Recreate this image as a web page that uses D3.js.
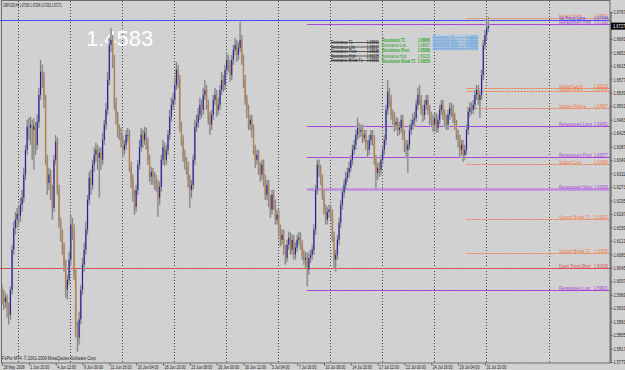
<!DOCTYPE html>
<html>
<head>
<meta charset="utf-8">
<script src="https://cdn.jsdelivr.net/npm/d3@7"></script>
<style>
  html, body { margin: 0; padding: 0; background: #d5d5d5; overflow: hidden; }
  text { font-family: "Liberation Sans", Arial, sans-serif; }
</style>
</head>
<body>
<div id="chart"></div>
<script>
// ---- data ----
const symbolInfo = "GBPUSD,H4  1.67160 1.67294 1.67202 1.67271";
const copyright = "FxPro MT4, \u00a9 2001-2009 MetaQuotes Software Corp.";
const bigValue = "1.4583";
const lastPrice = 1.67271;

// one label every 16 H4 bars
const dateLabels = ["28 May 2009", "1 Jun 20:00", "4 Jun 12:00", "9 Jun 00:00", "11 Jun 16:00",
  "16 Jun 04:00", "18 Jun 20:00", "23 Jun 08:00", "26 Jun 00:00", "30 Jun 12:00", "3 Jul 04:00",
  "7 Jul 16:00", "10 Jul 08:00", "14 Jul 20:00", "17 Jul 12:00", "22 Jul 00:00", "24 Jul 16:00",
  "29 Jul 04:00", "31 Jul 20:00"];
const gridBars = [9.5, 40.5, 71.5, 102.5, 133.5, 164.5, 195.5, 226.5, 257.5, 288.5, 326];

const priceTicks = [1.6767, 1.6729, 1.6691, 1.6653, 1.6615, 1.6577, 1.6539, 1.6501, 1.6463,
  1.6425, 1.6387, 1.6349, 1.6311, 1.6273, 1.6235, 1.6197, 1.6159, 1.6121, 1.6083, 1.6045,
  1.6007, 1.5969, 1.5931, 1.5893, 1.5855, 1.5817, 1.5779];

// H4 bars: [high, low, close]; each bar opens at the previous close
const firstOpen = 1.5977;
const bars = [
  [1.5997,1.5941,1.5969],[1.5983,1.5927,1.5949],[1.5975,1.5932,1.5961],[1.5969,1.5904,1.5932],[1.5947,1.5885,1.5913],
  [1.5992,1.5899,1.5983],[1.6110,1.5969,1.6096],[1.6175,1.6082,1.6158],[1.6203,1.6138,1.6181],[1.6214,1.6158,1.6197],
  [1.6223,1.6167,1.6192],[1.6243,1.6175,1.6223],[1.6265,1.6203,1.6243],[1.6327,1.6229,1.6308],[1.6392,1.6293,1.6378],
  [1.6463,1.6364,1.6443],[1.6468,1.6406,1.6440],[1.6471,1.6392,1.6449],[1.6463,1.6350,1.6434],[1.6468,1.6322,1.6446],
  [1.6457,1.6364,1.6392],[1.6477,1.6378,1.6457],[1.6553,1.6440,1.6533],[1.6632,1.6519,1.6598],[1.6618,1.6553,1.6581],
  [1.6598,1.6496,1.6519],[1.6533,1.6336,1.6350],[1.6364,1.6251,1.6285],[1.6327,1.6265,1.6308],[1.6322,1.6237,1.6265],
  [1.6279,1.6181,1.6214],[1.6364,1.6203,1.6350],[1.6420,1.6336,1.6401],[1.6412,1.6251,1.6265],[1.6279,1.6158,1.6175],
  [1.6186,1.6119,1.6138],[1.6153,1.6082,1.6105],[1.6116,1.6034,1.6054],[1.6068,1.5961,1.5983],[1.6025,1.5955,1.6011],
  [1.6090,1.5997,1.6068],[1.6195,1.6054,1.6167],[1.6186,1.6124,1.6153],[1.6167,1.6011,1.6025],[1.6040,1.5848,1.5870],
  [1.5893,1.5808,1.5848],[1.5921,1.5828,1.5899],[1.5997,1.5885,1.5983],[1.6073,1.5969,1.6054],[1.6116,1.6034,1.6096],
  [1.6175,1.6082,1.6153],[1.6251,1.6138,1.6237],[1.6316,1.6223,1.6299],[1.6322,1.6251,1.6279],[1.6350,1.6265,1.6336],
  [1.6384,1.6316,1.6364],[1.6398,1.6344,1.6378],[1.6392,1.6322,1.6355],[1.6384,1.6243,1.6370],[1.6386,1.6322,1.6350],
  [1.6426,1.6336,1.6406],[1.6463,1.6392,1.6449],[1.6511,1.6434,1.6491],[1.6598,1.6477,1.6575],[1.6694,1.6561,1.6674],
  [1.6722,1.6654,1.6688],[1.6702,1.6609,1.6632],[1.6646,1.6491,1.6511],[1.6525,1.6449,1.6471],[1.6485,1.6412,1.6434],
  [1.6449,1.6406,1.6426],[1.6440,1.6384,1.6406],[1.6420,1.6355,1.6378],[1.6406,1.6364,1.6392],[1.6434,1.6378,1.6420],
  [1.6440,1.6401,1.6420],[1.6434,1.6316,1.6330],[1.6344,1.6271,1.6293],[1.6308,1.6231,1.6251],[1.6265,1.6195,1.6217],
  [1.6279,1.6203,1.6265],[1.6350,1.6251,1.6336],[1.6406,1.6322,1.6386],[1.6440,1.6372,1.6420],[1.6434,1.6384,1.6406],
  [1.6443,1.6392,1.6426],[1.6440,1.6378,1.6398],[1.6412,1.6336,1.6350],[1.6364,1.6288,1.6302],[1.6330,1.6279,1.6316],
  [1.6327,1.6279,1.6299],[1.6316,1.6265,1.6293],[1.6308,1.6260,1.6279],[1.6293,1.6189,1.6243],[1.6288,1.6223,1.6274],
  [1.6364,1.6260,1.6350],[1.6406,1.6336,1.6386],[1.6398,1.6333,1.6350],[1.6392,1.6336,1.6378],[1.6434,1.6364,1.6420],
  [1.6491,1.6406,1.6471],[1.6525,1.6457,1.6505],[1.6539,1.6491,1.6519],[1.6581,1.6505,1.6561],[1.6626,1.6547,1.6604],
  [1.6618,1.6553,1.6575],[1.6589,1.6429,1.6443],[1.6457,1.6389,1.6406],[1.6420,1.6344,1.6358],[1.6378,1.6322,1.6344],
  [1.6358,1.6308,1.6330],[1.6344,1.6271,1.6293],[1.6308,1.6214,1.6265],[1.6293,1.6243,1.6279],[1.6364,1.6265,1.6350],
  [1.6463,1.6336,1.6443],[1.6477,1.6429,1.6454],[1.6496,1.6440,1.6477],[1.6525,1.6463,1.6505],[1.6519,1.6468,1.6491],
  [1.6553,1.6477,1.6533],[1.6575,1.6519,1.6547],[1.6561,1.6491,1.6505],[1.6519,1.6449,1.6468],[1.6485,1.6420,1.6449],
  [1.6491,1.6434,1.6477],[1.6533,1.6463,1.6519],[1.6553,1.6505,1.6533],[1.6547,1.6471,1.6491],[1.6525,1.6477,1.6505],
  [1.6561,1.6491,1.6547],[1.6598,1.6533,1.6575],[1.6589,1.6542,1.6561],[1.6618,1.6547,1.6604],[1.6654,1.6589,1.6632],
  [1.6646,1.6598,1.6618],[1.6632,1.6570,1.6589],[1.6646,1.6575,1.6632],[1.6674,1.6618,1.6660],[1.6694,1.6646,1.6674],
  [1.6688,1.6626,1.6646],[1.6683,1.6632,1.6666],[1.6739,1.6654,1.6688],[1.6702,1.6618,1.6632],[1.6646,1.6553,1.6575],
  [1.6589,1.6505,1.6519],[1.6533,1.6468,1.6491],[1.6505,1.6434,1.6449],[1.6477,1.6434,1.6463],[1.6477,1.6412,1.6434],
  [1.6449,1.6364,1.6378],[1.6392,1.6327,1.6350],[1.6378,1.6336,1.6364],[1.6378,1.6308,1.6327],[1.6344,1.6288,1.6308],
  [1.6350,1.6293,1.6336],[1.6350,1.6274,1.6293],[1.6308,1.6237,1.6251],[1.6293,1.6237,1.6279],[1.6293,1.6217,1.6237],
  [1.6251,1.6186,1.6209],[1.6265,1.6195,1.6251],[1.6265,1.6209,1.6223],[1.6237,1.6167,1.6181],[1.6209,1.6167,1.6195],
  [1.6209,1.6133,1.6153],[1.6167,1.6105,1.6124],[1.6153,1.6110,1.6138],[1.6153,1.6082,1.6096],[1.6110,1.6054,1.6073],
  [1.6124,1.6062,1.6110],[1.6147,1.6096,1.6130],[1.6144,1.6082,1.6096],[1.6138,1.6082,1.6124],[1.6138,1.6068,1.6082],
  [1.6116,1.6068,1.6102],[1.6138,1.6090,1.6124],[1.6147,1.6110,1.6130],[1.6144,1.6096,1.6110],[1.6124,1.6068,1.6082],
  [1.6096,1.6054,1.6068],[1.6090,1.6045,1.6073],[1.6088,1.5992,1.6040],[1.6088,1.6025,1.6073],[1.6096,1.6059,1.6082],
  [1.6110,1.6068,1.6096],[1.6167,1.6082,1.6153],[1.6279,1.6138,1.6265],[1.6350,1.6251,1.6336],[1.6350,1.6302,1.6322],
  [1.6336,1.6279,1.6293],[1.6308,1.6237,1.6251],[1.6265,1.6195,1.6209],[1.6223,1.6167,1.6181],[1.6217,1.6167,1.6203],
  [1.6223,1.6186,1.6209],[1.6223,1.6181,1.6195],[1.6209,1.6119,1.6133],[1.6147,1.6045,1.6068],[1.6096,1.6034,1.6082],
  [1.6138,1.6068,1.6124],[1.6186,1.6110,1.6172],[1.6237,1.6158,1.6223],[1.6271,1.6209,1.6257],[1.6293,1.6243,1.6279],
  [1.6316,1.6265,1.6299],[1.6327,1.6288,1.6313],[1.6344,1.6299,1.6327],[1.6364,1.6316,1.6350],[1.6392,1.6336,1.6378],
  [1.6406,1.6364,1.6392],[1.6434,1.6378,1.6420],[1.6468,1.6406,1.6440],[1.6454,1.6412,1.6429],[1.6449,1.6415,1.6434],
  [1.6449,1.6398,1.6412],[1.6434,1.6401,1.6420],[1.6434,1.6378,1.6392],[1.6406,1.6355,1.6378],[1.6420,1.6364,1.6406],
  [1.6434,1.6392,1.6420],[1.6434,1.6389,1.6406],[1.6420,1.6336,1.6350],[1.6364,1.6265,1.6313],[1.6341,1.6293,1.6327],
  [1.6344,1.6302,1.6322],[1.6364,1.6308,1.6350],[1.6392,1.6336,1.6378],[1.6420,1.6364,1.6406],[1.6505,1.6392,1.6491],
  [1.6575,1.6477,1.6542],[1.6553,1.6499,1.6519],[1.6533,1.6463,1.6477],[1.6491,1.6449,1.6468],[1.6485,1.6429,1.6449],
  [1.6471,1.6434,1.6457],[1.6468,1.6417,1.6434],[1.6457,1.6420,1.6440],[1.6477,1.6426,1.6463],[1.6477,1.6406,1.6420],
  [1.6434,1.6372,1.6392],[1.6406,1.6355,1.6378],[1.6406,1.6313,1.6392],[1.6449,1.6378,1.6434],[1.6463,1.6420,1.6449],
  [1.6480,1.6434,1.6463],[1.6485,1.6443,1.6468],[1.6519,1.6457,1.6505],[1.6553,1.6491,1.6533],[1.6561,1.6505,1.6519],
  [1.6533,1.6477,1.6491],[1.6505,1.6457,1.6477],[1.6519,1.6463,1.6505],[1.6533,1.6491,1.6519],[1.6533,1.6477,1.6491],
  [1.6505,1.6449,1.6468],[1.6485,1.6443,1.6463],[1.6477,1.6429,1.6449],[1.6482,1.6434,1.6468],[1.6482,1.6426,1.6440],
  [1.6477,1.6426,1.6463],[1.6505,1.6449,1.6491],[1.6519,1.6477,1.6505],[1.6519,1.6463,1.6477],[1.6491,1.6443,1.6463],
  [1.6477,1.6434,1.6449],[1.6491,1.6434,1.6477],[1.6511,1.6463,1.6496],[1.6511,1.6471,1.6491],[1.6505,1.6454,1.6468],
  [1.6482,1.6434,1.6449],[1.6463,1.6406,1.6420],[1.6434,1.6384,1.6406],[1.6420,1.6355,1.6378],[1.6406,1.6364,1.6392],
  [1.6406,1.6344,1.6364],[1.6392,1.6350,1.6378],[1.6449,1.6364,1.6434],[1.6499,1.6420,1.6485],[1.6513,1.6471,1.6496],
  [1.6511,1.6477,1.6491],[1.6519,1.6480,1.6505],[1.6547,1.6491,1.6533],[1.6561,1.6519,1.6547],[1.6561,1.6505,1.6519],
  [1.6547,1.6468,1.6533],[1.6604,1.6519,1.6589],[1.6688,1.6575,1.6674],[1.6716,1.6660,1.6702],[1.6745,1.6688,1.6722],
  [1.6753,1.6711,1.6728]
];

// pivot / retracement levels drawn by the indicator
const levelNames = ["Support High", "Up Trend Long", "Retracement High", "Support Long", "Support  Pivot",
  "Support Failure", "Retracement Long", "Retracement Pivot", "Support  Low", "Retracement Short",
  "Support Break T1", "Support Break T2", "Down Trend Short", "Retracement Low"];
const levelValues = [1.67501, 1.67444, 1.67331, 1.65526, 1.65440, 1.64957, 1.64451, 1.63577, 1.63390,
  1.62683, 1.61822, 1.60856, 1.60439, 1.59831];
const levelKinds = ["support", "uptrend", "retrace", "support", "support", "support", "retrace", "retrace",
  "support", "retraceMain", "support", "support", "downtrend", "retrace"];
const levelFromBar = [277, 0, 182, 277, 277, 277, 182, 182, 277, 182, 277, 277, 0, 182];

// resistance labels that the indicator stacks above the chart
const resistNames = ["Resistance T1", "Resistance Low", "Resistance Pivot", "Resistance High", "Resistance Break T1"];
const resistValues = [1.68866, 1.68097, 1.68688, 1.69225, 1.69556];

document.addEventListener("DOMContentLoaded", function() {
  const width = 625;
  const height = 370;
  const plotRight = 610;
  const plotBottom = 363;

  const kindColor = {
    support: "#f07a4a", uptrend: "#4a4aff", retrace: "#a645d8",
    retraceMain: "#c58be0", downtrend: "#d85050"
  };

  const svg = d3.select("#chart")
      .append("svg")
      .attr("width", width)
      .attr("height", height);

  // speckled grey background like the MT4 screenshot
  const defs = svg.append("defs");
  const noise = defs.append("filter").attr("id", "noise");
  noise.append("feTurbulence").attr("type", "fractalNoise").attr("baseFrequency", 0.9).attr("numOctaves", 1).attr("result", "n");
  noise.append("feColorMatrix").attr("type", "matrix")
      .attr("values", "0 0 0 0 0.4  0 0 0 0 0.4  0 0 0 0 0.4  0 0 0 0.18 0");
  svg.append("rect").attr("width", width).attr("height", height).attr("fill", "#d5d5d5");
  svg.append("rect").attr("width", width).attr("height", height).attr("filter", "url(#noise)");

  // scales
  const x = d3.scaleLinear().domain([0, 290]).range([2, 488.3]);
  const y = d3.scaleLinear()
      .domain([priceTicks[priceTicks.length - 1], priceTicks[0]])
      .range([362, 12]);

  // squeeze the tiny MT4 fonts horizontally
  function squeeze(sel, k) {
    sel.each(function() {
      const w = this.getComputedTextLength();
      d3.select(this).attr("textLength", w * k).attr("lengthAdjust", "spacingAndGlyphs");
    });
  }

  // vertical dotted grid
  svg.append("g").selectAll("line")
      .data(gridBars)
      .join("line")
      .attr("x1", d => Math.round(x(d)) + 0.5)
      .attr("x2", d => Math.round(x(d)) + 0.5)
      .attr("y1", 1)
      .attr("y2", plotBottom)
      .attr("stroke", "#444")
      .attr("stroke-width", 1)
      .attr("stroke-dasharray", "1,2");

  // big overlay value
  svg.append("text")
      .attr("x", 86).attr("y", 46)
      .attr("fill", "#ffffff")
      .style("font-size", "22px")
      .text(bigValue);

  const levels = levelNames.map((name, i) => ({
    name, value: levelValues[i], kind: levelKinds[i], from: levelFromBar[i]
  }));

  const levelG = svg.append("g");
  levelG.selectAll("line")
      .data(levels)
      .join("line")
      .attr("x1", d => d.from === 0 ? 0 : x(d.from))
      .attr("x2", plotRight)
      .attr("y1", d => Math.round(y(d.value)) + 0.5)
      .attr("y2", d => Math.round(y(d.value)) + 0.5)
      .attr("stroke", d => kindColor[d.kind])
      .attr("stroke-width", d => d.kind === "retraceMain" ? 2.5 : 1)
      .attr("stroke-dasharray", d => d.kind === "support" ? "2,1" : null);

  // candles
  const candles = bars.map((b, i) => ({
    i, open: i ? bars[i - 1][2] : firstOpen, high: b[0], low: b[1], close: b[2]
  }));

  const cg = svg.append("g");
  // soft halo from the downscaled screenshot
  cg.selectAll(".halo")
      .data(candles)
      .join("line")
      .attr("class", "halo")
      .attr("x1", d => x(d.i)).attr("x2", d => x(d.i))
      .attr("y1", d => y(d.high)).attr("y2", d => y(d.low))
      .attr("stroke", "#bdbdbd").attr("stroke-width", 2.2);
  cg.selectAll(".wick")
      .data(candles)
      .join("line")
      .attr("class", "wick")
      .attr("x1", d => x(d.i)).attr("x2", d => x(d.i))
      .attr("y1", d => y(d.high)).attr("y2", d => y(d.low))
      .attr("stroke", "#707070").attr("stroke-width", 0.8);
  cg.selectAll(".body")
      .data(candles)
      .join("rect")
      .attr("class", "body")
      .attr("x", d => x(d.i) - 0.55)
      .attr("width", 1.1)
      .attr("y", d => y(Math.max(d.open, d.close)))
      .attr("height", d => Math.max(0.8, Math.abs(y(d.open) - y(d.close))))
      .attr("fill", d => d.close >= d.open ? "#22229e" : "#c0813f");

  // level captions: name at left, value at right, sitting on the line
  const capG = svg.append("g").style("font-size", "5.5px");
  capG.selectAll(".lname")
      .data(levels)
      .join("text")
      .attr("class", "lname")
      .attr("x", 559)
      .attr("y", d => Math.round(y(d.value)) - 0.5)
      .attr("fill", d => d.kind === "retraceMain" ? kindColor.retrace : kindColor[d.kind])
      .text(d => d.name)
      .call(squeeze, 0.72);
  capG.selectAll(".lval")
      .data(levels)
      .join("text")
      .attr("class", "lval")
      .attr("x", 608)
      .attr("y", d => Math.round(y(d.value)) - 0.5)
      .attr("text-anchor", "end")
      .attr("fill", d => d.kind === "retraceMain" ? kindColor.retrace : kindColor[d.kind])
      .text(d => d.value.toFixed(5))
      .call(squeeze, 0.7);

  // stacked resistance captions (black table, green list, blue smear)
  const rows = resistNames.map((n, i) => ({ n, v: resistValues[i], i }));
  const blocks = [
    { x0: 331, x1: 379, top: 44, step: 4.5, color: "#222", strike: true, bold: false },
    { x0: 382, x1: 430, top: 41.5, step: 5.4, color: "#2ea52e", strike: false, bold: true },
    { x0: 433, x1: 478, top: 39, step: 2.8, color: "#6fa6dc", strike: true, bold: false }
  ];
  // pale box behind the blue smear
  svg.append("rect")
      .attr("x", 432).attr("y", 34.5).attr("width", 46).attr("height", 16)
      .attr("fill", "#a9c7e6").attr("opacity", 0.55);
  blocks.forEach(bk => {
    const g = svg.append("g").style("font-size", "5.5px");
    g.selectAll(".rn").data(rows).join("text")
        .attr("x", bk.x0).attr("y", d => bk.top + d.i * bk.step)
        .attr("fill", bk.color)
        .style("font-weight", d => bk.bold && d.i % 2 === 0 ? "bold" : null)
        .text(d => d.n).call(squeeze, 0.62);
    g.selectAll(".rv").data(rows).join("text")
        .attr("x", bk.x1).attr("y", d => bk.top + d.i * bk.step)
        .attr("text-anchor", "end")
        .attr("fill", bk.color)
        .style("font-weight", d => bk.bold && d.i % 2 === 0 ? "bold" : null)
        .text(d => d.v.toFixed(5)).call(squeeze, 0.62);
    if (bk.strike) {
      g.selectAll(".rs").data(rows).join("line")
          .attr("x1", bk.x0).attr("x2", bk.x1)
          .attr("y1", d => bk.top - 1.5 + d.i * bk.step).attr("y2", d => bk.top - 1.5 + d.i * bk.step)
          .attr("stroke", bk.color).attr("stroke-width", 0.7);
    }
  });

  // frame and price axis
  svg.append("rect")
      .attr("x", 1.5).attr("y", 0.5)
      .attr("width", plotRight - 1.5).attr("height", plotBottom - 0.5)
      .attr("fill", "none").attr("stroke", "#6c6c6c");

  const yAxis = svg.append("g")
      .attr("transform", `translate(${plotRight + 0.5},0)`)
      .call(d3.axisRight(y).tickValues(priceTicks).tickSize(2).tickFormat(d => d.toFixed(5)));
  yAxis.select(".domain").attr("stroke", "#555");
  yAxis.selectAll("line").attr("stroke", "#555");
  yAxis.selectAll("text")
      .attr("x", 3).attr("fill", "#222")
      .style("font-size", "5.5px")
      .call(squeeze, 0.72);

  // current price marker
  const lp = svg.append("g").attr("transform", `translate(${plotRight + 1},${y(lastPrice)})`);
  lp.append("rect").attr("x", 0).attr("y", -3.5).attr("width", 16).attr("height", 7).attr("fill", "#000");
  lp.append("text").attr("x", 2).attr("y", 2).attr("fill", "#fff")
      .style("font-size", "5.5px").text(lastPrice.toFixed(5)).call(squeeze, 0.72);

  // time axis
  const xAxis = svg.append("g")
      .attr("transform", `translate(0,${plotBottom + 0.5})`)
      .call(d3.axisBottom(x)
          .tickValues(dateLabels.map((d, i) => i * 16))
          .tickSize(2)
          .tickFormat((d, i) => dateLabels[i]));
  xAxis.select(".domain").remove();
  xAxis.selectAll("line").attr("stroke", "#555");
  xAxis.selectAll("text")
      .attr("text-anchor", "start")
      .attr("x", 1).attr("y", 1.5).attr("dy", "0.71em")
      .attr("fill", "#222")
      .style("font-size", "5.5px")
      .call(squeeze, 0.66);

  // header and footer text
  svg.append("text").attr("x", 3).attr("y", 7)
      .attr("fill", "#222").style("font-size", "5px")
      .text(symbolInfo).call(squeeze, 0.55);
  svg.append("text").attr("x", 2).attr("y", 360)
      .attr("fill", "#222").style("font-size", "5.5px")
      .text(copyright).call(squeeze, 0.72);
});
</script>
</body>
</html>
